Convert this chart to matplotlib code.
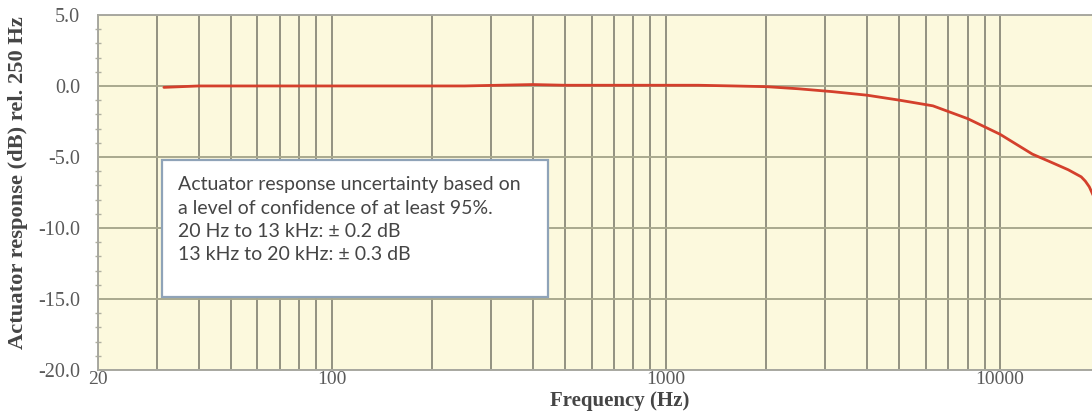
import matplotlib.pyplot as plt
from matplotlib.patches import Rectangle
from matplotlib.ticker import FixedLocator, LogLocator, NullFormatter, MultipleLocator


# DATA

freq_hz = [31.5, 40, 50, 63, 80, 100, 125, 160, 200, 250, 315, 400, 500, 630, 800,
           1000, 1250, 1600, 2000, 2500, 3150, 4000, 5000, 6300, 8000, 10000,
           12500, 14000, 16000, 17500, 18000, 18500, 19000, 20000]
response_db = [-0.1, 0.0, 0.0, 0.0, 0.0, 0.0, 0.0, 0.0, 0.0, 0.0, 0.05, 0.1, 0.05, 0.05, 0.05,
               0.05, 0.05, 0.0, -0.05, -0.2, -0.4, -0.65, -1.0, -1.4, -2.3, -3.4,
               -4.8, -5.3, -5.9, -6.4, -6.7, -7.1, -7.7, -9.0]

x_ticks = [20, 100, 1000, 10000]
x_tick_labels = ["20", "100", "1000", "10000"]
y_ticks = [-20, -15, -10, -5, 0, 5]
y_tick_labels = ["-20.0", "-15.0", "-10.0", "-5.0", "0.0", "5.0"]

note_lines = [
    "Actuator response uncertainty based on",
    "a level of confidence of at least 95%.",
    "20 Hz to 13 kHz: \u00b1 0.2 dB",
    "13 kHz to 20 kHz: \u00b1 0.3 dB",
]


# STYLE

BG = "#fcf9dd"
VGRID = "#8a8a7a"
HGRID = "#a9a98e"
LABEL_GRAY = "#5a5a5a"
SERIF = "Liberation Serif"


# DRAW

fig = plt.figure(figsize=(10.92, 4.12), dpi=100)
ax = fig.add_axes([0.0897, 0.102, 0.9103, 0.8617])
ax.set_facecolor(BG)

ax.set_xscale("log")
ax.set_xlim(20, 18850)
ax.set_ylim(-20, 5)

# vertical grid: decades and their sub-divisions all look the same
ax.xaxis.set_major_locator(FixedLocator(x_ticks))
ax.xaxis.set_minor_locator(LogLocator(base=10, subs=range(2, 10)))
ax.xaxis.set_minor_formatter(NullFormatter())
ax.set_xticklabels(x_tick_labels)
ax.grid(True, which="both", axis="x", color=VGRID, lw=1.3)
ax.tick_params(axis="x", which="both", length=0, pad=1,
               labelsize=14, labelcolor=LABEL_GRAY)
for lbl in ax.get_xticklabels():
    lbl.set_fontfamily(SERIF)

ax.set_yticks(y_ticks)
ax.set_yticklabels(y_tick_labels)
ax.yaxis.set_minor_locator(MultipleLocator(1))
ax.grid(True, which="major", axis="y", color=HGRID, lw=1.4)
ax.tick_params(axis="y", which="major", length=0, pad=13,
               labelsize=14.5, labelcolor=LABEL_GRAY)
ax.tick_params(axis="y", which="minor", length=4, direction="inout",
               color="#b0b0a0", width=1)
for lbl in ax.get_yticklabels():
    lbl.set_fontfamily(SERIF)

ax.set_axisbelow(True)
for side in ["top", "bottom", "left"]:
    ax.spines[side].set_color("#a8a8a0")
    ax.spines[side].set_linewidth(1.4)
ax.spines["right"].set_visible(False)

ax.plot(freq_hz, response_db, color="#d4402c", lw=2.0, solid_capstyle="round", zorder=3)

ax.set_ylabel("Actuator response (dB) rel. 250 Hz", family=SERIF, fontweight="bold",
              fontsize=16.2, color="#454545")
ax.yaxis.set_label_coords(-0.0705, 0.527)
ax.set_xlabel("Frequency (Hz)", family=SERIF, fontweight="bold",
              fontsize=15, color="#454545")
ax.xaxis.set_label_coords(0.525, -0.058)

# uncertainty note box
box = Rectangle((0.0644, 0.2056), 0.388, 0.386, transform=ax.transAxes,
                facecolor="white", edgecolor="#8fa3b8", lw=1.6, zorder=4)
ax.add_patch(box)
ax.text(0.0805, 0.545, "\n".join(note_lines), transform=ax.transAxes,
        family="Lato", fontsize=14, color="#454545", va="top", ha="left",
        linespacing=1.45, zorder=5)

fig.savefig("out.png", dpi=100, facecolor="white")
